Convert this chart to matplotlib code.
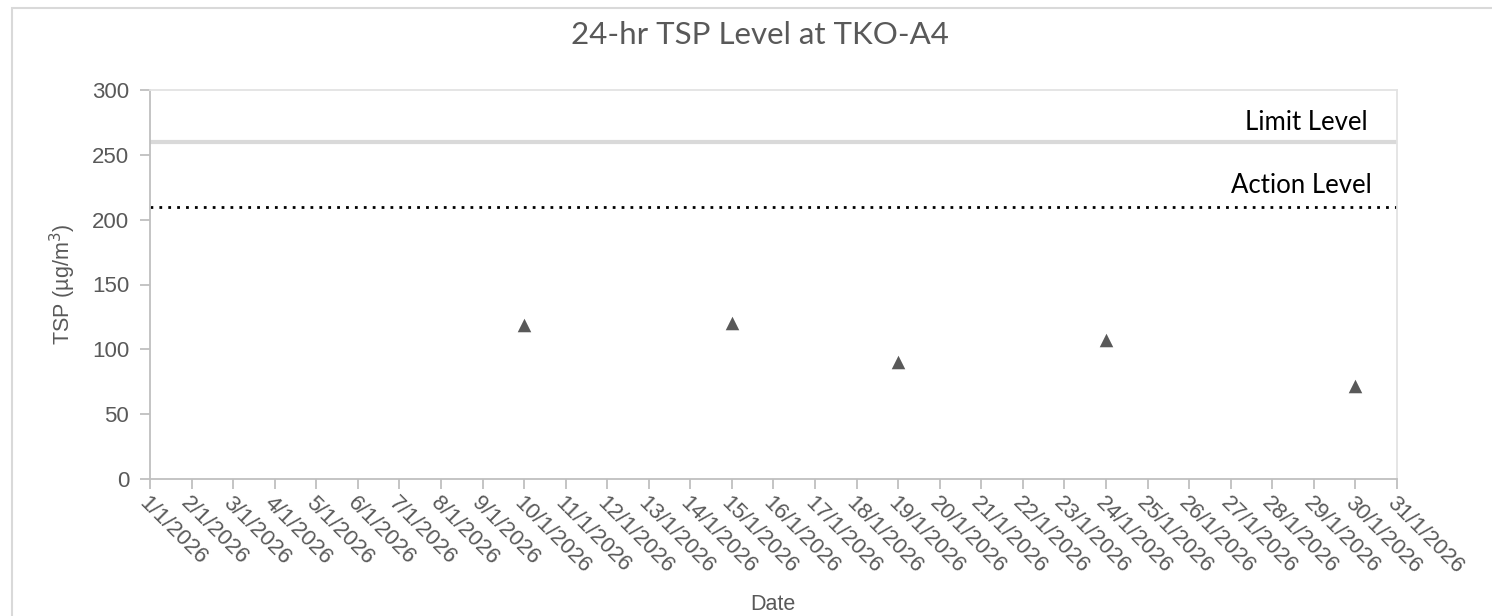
import matplotlib
matplotlib.use("Agg")
import matplotlib.pyplot as plt
from matplotlib.patches import Rectangle

# data
days = [10, 15, 19, 24, 30]
tsp = [119, 120, 90, 107, 72]
tick_days = list(range(1, 32))
tick_labels = [f"{d}/1/2026" for d in tick_days]
limit_level = 260
action_level = 210

GRAY = "#595959"
AXGRAY = "#bfbfbf"

plt.rcParams['font.family'] = ['Liberation Sans', 'DejaVu Sans']

fig = plt.figure(figsize=(14.92, 6.16), dpi=100)
ax = fig.add_axes([150 / 1492, 1 - 479 / 616, (1397 - 150) / 1492, (479 - 90) / 616])

# chart area border
fig.patches.append(Rectangle((12 / 1492, -0.1), 1.2, 1 - 8 / 616 + 0.1, transform=fig.transFigure,
                             fill=False, edgecolor="#d9d9d9", linewidth=1.5))

ax.axhline(limit_level, color="#d9d9d9", linewidth=3, zorder=2)
ax.axhline(action_level, color="black", linewidth=2, linestyle=(0, (1, 2.2)), zorder=2)
ax.scatter(days, tsp, marker="^", s=95, color=GRAY, zorder=3, linewidths=0)

ax.text(30.3, limit_level + 5, "Limit Level", ha="right", va="bottom", fontsize=18.5,
        family=["Lato", "DejaVu Sans"], color="black")
ax.text(30.4, action_level + 7, "Action Level", ha="right", va="bottom", fontsize=18.5,
        family=["Lato", "DejaVu Sans"], color="black")

ax.set_xlim(1, 31)
ax.set_ylim(0, 300)
ax.set_yticks(range(0, 301, 50))
ax.set_xticks(tick_days)
ax.set_xticklabels(tick_labels, rotation=-45, ha="left", va="top", rotation_mode="anchor")

for side in ["left", "bottom"]:
    ax.spines[side].set_color(AXGRAY)
    ax.spines[side].set_linewidth(1.3)
for side in ["right", "top"]:
    ax.spines[side].set_color("#e3e3e3")
    ax.spines[side].set_linewidth(1.3)

ax.tick_params(axis="both", colors=AXGRAY, labelcolor=GRAY, labelsize=16, length=7, width=1.3)
ax.tick_params(axis="x", pad=3)
ax.tick_params(axis="y", pad=8)

ax.set_ylabel("TSP (µg/m$^3$)", color=GRAY, fontsize=15.5, labelpad=10)
fig.text(773 / 1492, 1 - 605 / 616, "Date", ha="center", va="center", color=GRAY, fontsize=15.5)
fig.text(760 / 1492, 1 - 35 / 616, "24-hr TSP Level at TKO-A4", ha="center", va="center",
         color=GRAY, fontsize=22.5, family=["Lato", "DejaVu Sans"])

fig.savefig("out.png", dpi=100)
